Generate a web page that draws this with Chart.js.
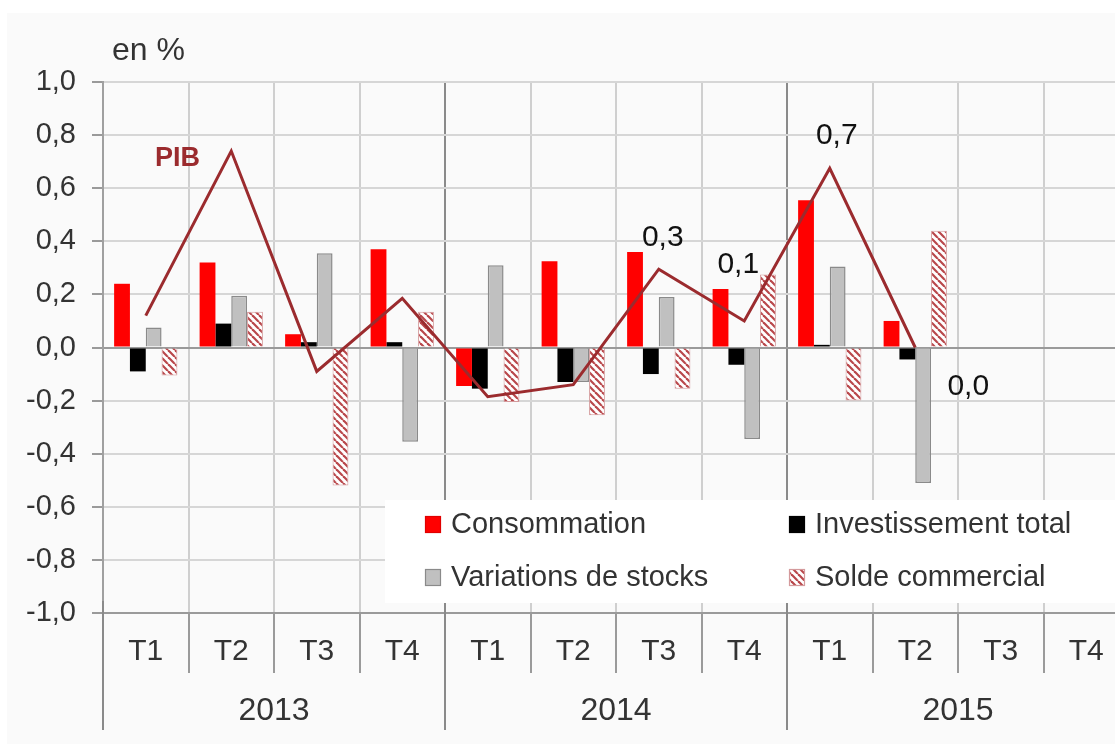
<!DOCTYPE html>
<html>
<head>
<meta charset="utf-8">
<script src="https://cdn.jsdelivr.net/npm/chart.js@4.4.1/dist/chart.umd.min.js"></script>
<style>
  html, body { margin: 0; padding: 0; background: #fff; overflow: hidden; }
  #wrap { width: 1115px; height: 744px; overflow: hidden; position: relative; }
  #pibChart { position: absolute; left: 0; top: 0; }
</style>
</head>
<body>
<div id="wrap"><canvas id="pibChart" width="1129" height="744"></canvas></div>
<script>
// Données (contributions à la croissance du PIB, en points)
const quarters = ['T1', 'T2', 'T3', 'T4', 'T1', 'T2', 'T3', 'T4', 'T1', 'T2', 'T3', 'T4'];
const years = ['2013', '2014', '2015'];
const consommation = [0.24, 0.32, 0.05, 0.37, -0.145, 0.325, 0.36, 0.22, 0.555, 0.10, null, null];
const investissement = [-0.09, 0.09, 0.02, 0.02, -0.155, -0.13, -0.10, -0.065, 0.01, -0.045, null, null];
const stocks = [0.075, 0.195, 0.355, -0.355, 0.31, -0.13, 0.19, -0.345, 0.305, -0.51, null, null];
const solde = [-0.105, 0.135, -0.52, 0.135, -0.205, -0.255, -0.155, 0.275, -0.2, 0.44, null, null];
const pib = [0.12, 0.74, -0.09, 0.185, -0.185, -0.14, 0.295, 0.10, 0.675, 0.0, null, null];
const pibNotes = [null, null, null, null, null, null, '0,3', '0,1', '0,7', '0,0', null, null];

const FONT = '"Liberation Sans", Arial, sans-serif';
const PIB_COLOR = '#9b2b2e';

// motif hachuré pour le solde commercial
function makeHatch() {
    const s = 7;
    const c = document.createElement('canvas');
    c.width = s; c.height = s;
    const g = c.getContext('2d');
    g.fillStyle = '#ffffff';
    g.fillRect(0, 0, s, s);
    g.strokeStyle = '#b9474b';
    g.lineWidth = 2.2;
    [-s, 0, s].forEach(k => {
        g.beginPath();
        g.moveTo(k, 0);
        g.lineTo(k + s, s);
        g.stroke();
    });
    return g.createPattern(c, 'repeat');
}
const hatch = makeHatch();

// décor : fond, axe des années, légende, étiquettes
const decor = {
    id: 'decor',
    beforeDraw(chart) {
        const { ctx } = chart;
        ctx.save();
        ctx.fillStyle = '#fafafa';
        ctx.fillRect(7, 13, chart.width, chart.height);
        ctx.restore();
    },
    afterDraw(chart) {
        const { ctx, chartArea } = chart;
        const xs = chart.scales.x;
        const step = xs.width / quarters.length;
        ctx.save();

        // séparateurs sous l'axe
        for (let i = 0; i <= quarters.length; i++) {
            const x = Math.round(xs.left + i * step);
            ctx.beginPath();
            if (i % 4 === 0) {
                ctx.strokeStyle = '#8a8a8a';
                ctx.moveTo(x, chartArea.bottom - 12);
                ctx.lineTo(x, 730);
            } else {
                ctx.strokeStyle = '#9a9a9a';
                ctx.moveTo(x, chartArea.bottom);
                ctx.lineTo(x, 673);
            }
            ctx.lineWidth = 2;
            ctx.stroke();
        }

        // années
        ctx.fillStyle = '#333';
        ctx.font = '32px ' + FONT;
        ctx.textAlign = 'center';
        ctx.textBaseline = 'middle';
        years.forEach((y, i) => {
            ctx.fillText(y, xs.left + (i * 4 + 2) * step, 711);
        });

        // unité
        ctx.textAlign = 'left';
        ctx.font = '32px ' + FONT;
        ctx.fillText('en %', 112, 51);

        // légende dans le graphique
        ctx.fillStyle = '#ffffff';
        ctx.fillRect(385, 500, chart.width - 385, 103);
        const items = [
            { ds: 0, x: 425, y: 524 },
            { ds: 1, x: 789, y: 524 },
            { ds: 2, x: 425, y: 577 },
            { ds: 3, x: 789, y: 577 }
        ];
        ctx.font = '29px ' + FONT;
        items.forEach(it => {
            const ds = chart.data.datasets[it.ds];
            ctx.fillStyle = ds.backgroundColor;
            ctx.fillRect(it.x, it.y - 8, 16, 17);
            ctx.strokeStyle = ds.borderColor;
            ctx.lineWidth = 1.2;
            ctx.strokeRect(it.x + 0.5, it.y - 7.5, 15, 16);
            ctx.fillStyle = '#333';
            ctx.fillText(ds.label, it.x + 26, it.y + 1);
        });

        // libellé PIB
        ctx.fillStyle = PIB_COLOR;
        ctx.font = 'bold 27px ' + FONT;
        ctx.fillText('PIB', 155, 159);

        // valeurs du PIB
        const noteOffsets = { 6: [4, -31], 7: [-6, -56], 8: [7, -33], 9: [53, 39] };
        const meta = chart.getDatasetMeta(4);
        ctx.fillStyle = '#111';
        ctx.font = '30px ' + FONT;
        ctx.textAlign = 'center';
        pibNotes.forEach((n, i) => {
            if (!n) return;
            const pt = meta.data[i];
            const off = noteOffsets[i] || [0, -30];
            ctx.fillText(n, pt.x + off[0], pt.y + off[1]);
        });

        ctx.restore();
    }
};

new Chart(document.getElementById('pibChart'), {
    type: 'bar',
    data: {
        labels: quarters,
        datasets: [
            { label: 'Consommation', data: consommation, backgroundColor: '#ff0000', borderColor: '#e00000', borderWidth: 0, order: 1 },
            { label: 'Investissement total', data: investissement, backgroundColor: '#000000', borderColor: '#000000', borderWidth: 0, order: 1 },
            { label: 'Variations de stocks', data: stocks, backgroundColor: '#c0c0c0', borderColor: '#8a8a8a', borderWidth: 1.5, order: 1 },
            { label: 'Solde commercial', data: solde, backgroundColor: hatch, borderColor: '#d49a9c', borderWidth: 1, order: 1 },
            {
                type: 'line', label: 'PIB', data: pib, borderColor: PIB_COLOR, borderWidth: 3,
                pointRadius: 0, tension: 0, fill: false, order: 0
            }
        ]
    },
    options: {
        responsive: false,
        animation: false,
        layout: { padding: { top: 82, left: 0, right: 0, bottom: 0 } },
        datasets: { bar: { categoryPercentage: 0.74, barPercentage: 1.0 } },
        plugins: {
            legend: { display: false },
            tooltip: { enabled: false }
        },
        scales: {
            x: {
                grid: {
                    offset: true,
                    drawTicks: false,
                    lineWidth: 2,
                    color: c => (c.index % 4 === 0 ? '#8a8a8a' : '#cfcfcf')
                },
                border: { display: true, color: '#9a9a9a', width: 2 },
                ticks: { color: '#333', font: { family: FONT, size: 30 }, padding: 21 },
                afterFit: s => { s.height = 131; }
            },
            y: {
                min: -1,
                max: 1,
                grid: {
                    lineWidth: 2,
                    tickLength: 11,
                    tickColor: '#9a9a9a',
                    color: c => (c.tick && c.tick.value === 0 ? '#9a9a9a' : '#d6d6d6')
                },
                border: { display: true, color: '#a0a0a0', width: 2 },
                ticks: {
                    stepSize: 0.2,
                    color: '#333',
                    padding: 16,
                    font: { family: FONT, size: 29 },
                    callback: v => v.toFixed(1).replace('.', ',')
                },
                afterFit: s => { s.width = 103; }
            }
        }
    },
    plugins: [decor]
});
</script>
</body>
</html>
